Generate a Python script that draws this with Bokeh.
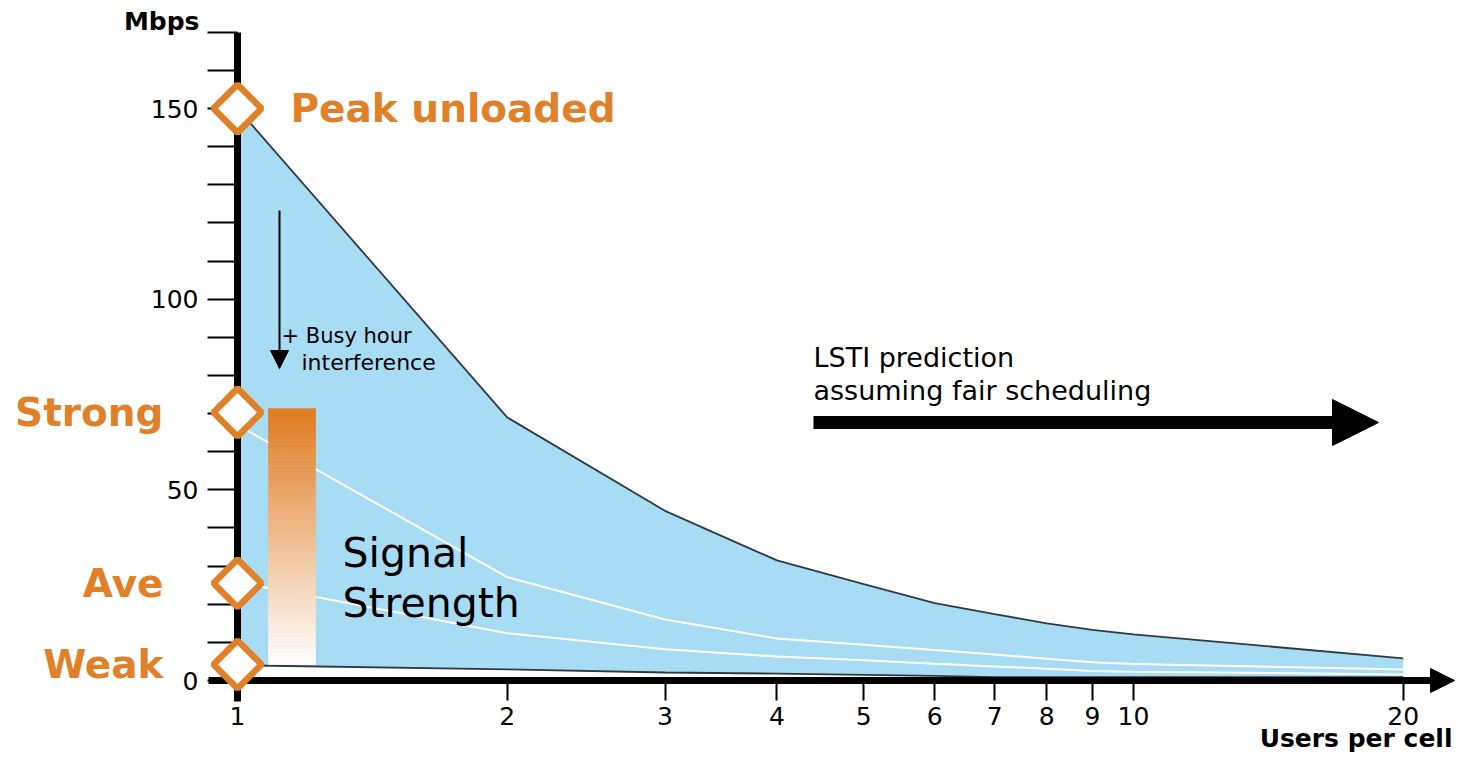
import numpy as np
from bokeh.plotting import figure
from bokeh.models import FixedTicker, NumeralTickFormatter, Arrow, NormalHead
from bokeh.core.properties import value
from bokeh.embed import file_html
from bokeh.resources import INLINE

# ---------------- data ----------------
users = [1, 2, 3, 4, 5, 6, 7, 8, 9, 10, 20]
peak_mbps = [150, 69.0, 44.5, 31.5, 25.3, 20.3, 17.4, 15.0, 13.3, 12.1, 5.8]
strong_mbps = [67.0, 27.1, 16.0, 11.0, 9.4, 8.0, 6.8, 5.7, 4.8, 4.3, 2.9]
ave_mbps = [25.8, 12.4, 8.2, 6.3, 5.3, 4.4, 3.7, 3.1, 2.5, 2.3, 1.6]
weak_mbps = [4.0, 2.9, 2.1, 1.8, 1.5, 1.2, 0.9, 0.9, 0.9, 0.9, 0.9]

level_names = ["Peak unloaded", "Strong", "Ave", "Weak"]
level_mbps = [150, 70.3, 25.5, 4.2]

x_ticks = [1, 2, 3, 4, 5, 6, 7, 8, 9, 10, 20]
y_ticks = [0, 50, 100, 150]
y_minor_ticks = [10, 20, 30, 40, 60, 70, 80, 90, 110, 120, 130, 140, 160, 170]

# ---------------- geometry / styles ----------------
W, H = 1456, 755
X1_PX = 237          # pixel where users = 1
DECADE_PX = 896.0
Y0_PX = 680          # pixel where Mbps = 0
PX_PER_MBPS = 3.813

def px2x(px):
    return 10 ** ((px - X1_PX) / DECADE_PX)

def py2y(py):
    return (Y0_PX - py) / PX_PER_MBPS

x_start, x_end = px2x(0), px2x(W)
y_start, y_end = py2y(H), py2y(0)

ORANGE = "#E08028"
BLUE = "#A8DCF5"
DARK = "#2E3A40"
FONT = value("DejaVu Sans")

p = figure(width=W, height=H, x_axis_type="log",
           x_range=(x_start, x_end), y_range=(y_start, y_end),
           output_backend="svg", toolbar_location=None, title=None,
           min_border=0, min_border_left=0, min_border_right=0,
           min_border_top=0, min_border_bottom=0)
p.outline_line_color = None
p.grid.visible = False
p.background_fill_color = "white"
p.border_fill_color = "white"

# ---------------- axes ----------------
xa = p.xaxis[0]
xa.fixed_location = 0
xa.ticker = FixedTicker(ticks=x_ticks, minor_ticks=[])
xa.formatter = NumeralTickFormatter(format="0")
xa.bounds = (px2x(208), px2x(1432))
xa.axis_line_width = 7
xa.axis_line_color = "black"
xa.major_tick_out = 20
xa.major_tick_in = 0
xa.major_tick_line_width = 2
xa.major_tick_line_color = "black"
xa.minor_tick_line_color = None
xa.major_label_text_font = "DejaVu Sans"
xa.major_label_text_font_size = "25px"
xa.major_label_text_color = "black"
xa.major_label_standoff = 6

ya = p.yaxis[0]
ya.fixed_location = 1
ya.ticker = FixedTicker(ticks=y_ticks, minor_ticks=y_minor_ticks)
ya.formatter = NumeralTickFormatter(format="0")
ya.bounds = (py2y(701), 170)
ya.axis_line_width = 7
ya.axis_line_color = "black"
ya.major_tick_out = 30
ya.major_tick_in = 0
ya.major_tick_line_width = 2
ya.major_tick_line_color = "black"
ya.minor_tick_out = 30
ya.minor_tick_in = 0
ya.minor_tick_line_width = 2
ya.minor_tick_line_color = "black"
ya.major_label_text_font = "DejaVu Sans"
ya.major_label_text_font_size = "25px"
ya.major_label_text_color = "black"
ya.major_label_standoff = 9

# ---------------- area and curves ----------------
p.varea(x=users, y1=weak_mbps, y2=peak_mbps, fill_color=BLUE)
p.line(users, strong_mbps, line_color="white", line_width=2)
p.line(users, ave_mbps, line_color="white", line_width=2)
p.line(users, peak_mbps, line_color=DARK, line_width=1.8)
p.line(users, weak_mbps, line_color=DARK, line_width=1.8)

# ---------------- gradient signal-strength bar ----------------
n = 80
edges = np.linspace(level_mbps[3], level_mbps[1] + 1.0, n + 1)
t = (np.arange(n) + 0.5) / n
top_rgb = np.array([224, 122, 30])
cols = []
for tt in t:
    c = (1 - tt) * np.array([255, 255, 255]) + tt * top_rgb
    cols.append("#%02x%02x%02x" % tuple(int(round(v)) for v in c))
p.quad(left=px2x(268), right=px2x(315), bottom=edges[:-1], top=edges[1:],
       fill_color=cols, line_color=cols, line_width=0.6)

# ---------------- texts ----------------
p.text(x=[px2x(290)], y=[level_mbps[0]], text=[level_names[0]],
       text_align="left", text_baseline="middle", text_font=FONT,
       text_font_style="bold", text_font_size="39px", text_color=ORANGE)
p.text(x=[px2x(163)] * 3, y=level_mbps[1:], text=level_names[1:],
       text_align="right", text_baseline="middle", text_font=FONT,
       text_font_style="bold", text_font_size="39px", text_color=ORANGE)

p.text(x=[px2x(199)], y=[py2y(21)], text=["Mbps"], text_align="right",
       text_baseline="middle", text_font=FONT, text_font_style="bold",
       text_font_size="25px", text_color="black")
p.text(x=[px2x(1452)], y=[py2y(738)], text=["Users per cell"], text_align="right",
       text_baseline="middle", text_font=FONT, text_font_style="bold",
       text_font_size="25px", text_color="black")

p.text(x=[px2x(281)], y=[py2y(335)], text=["+ Busy hour"], text_align="left",
       text_baseline="alphabetic", text_font=FONT, text_font_size="21px",
       text_color="black")
p.text(x=[px2x(301)], y=[py2y(362)], text=["interference"], text_align="left",
       text_baseline="alphabetic", text_font=FONT, text_font_size="22px",
       text_color="black")

p.text(x=[px2x(813)] * 2, y=[py2y(357), py2y(390)],
       text=["LSTI prediction", "assuming fair scheduling"], text_align="left",
       text_baseline="middle", text_font=FONT, text_font_size="27px",
       text_color="black")

p.text(x=[px2x(342)] * 2, y=[py2y(552), py2y(602)],
       text=["Signal", "Strength"], text_align="left",
       text_baseline="alphabetic", text_font=FONT, text_font_size="41px",
       text_color="black")

# ---------------- arrows ----------------
p.add_layout(Arrow(end=NormalHead(size=24, fill_color="black", line_color="black", line_width=1),
                   x_start=px2x(1410), y_start=0, x_end=px2x(1454), y_end=0,
                   line_width=7, line_color="black"))
p.add_layout(Arrow(end=NormalHead(size=46, fill_color="black", line_color="black", line_width=1),
                   x_start=px2x(813), y_start=py2y(422), x_end=px2x(1378), y_end=py2y(422),
                   line_width=13, line_color="black"))
p.add_layout(Arrow(end=NormalHead(size=18, fill_color="black", line_color="black", line_width=1),
                   x_start=px2x(279), y_start=py2y(210), x_end=px2x(279), y_end=py2y(368),
                   line_width=2, line_color="black"))

# ---------------- level diamonds ----------------
p.scatter(x=[1] * len(level_mbps), y=level_mbps, marker="square", angle=np.pi / 4,
          size=34, fill_color="white", line_color=ORANGE, line_width=6.5,
          level="overlay")

open("out.html", "w").write(file_html(p, INLINE))
